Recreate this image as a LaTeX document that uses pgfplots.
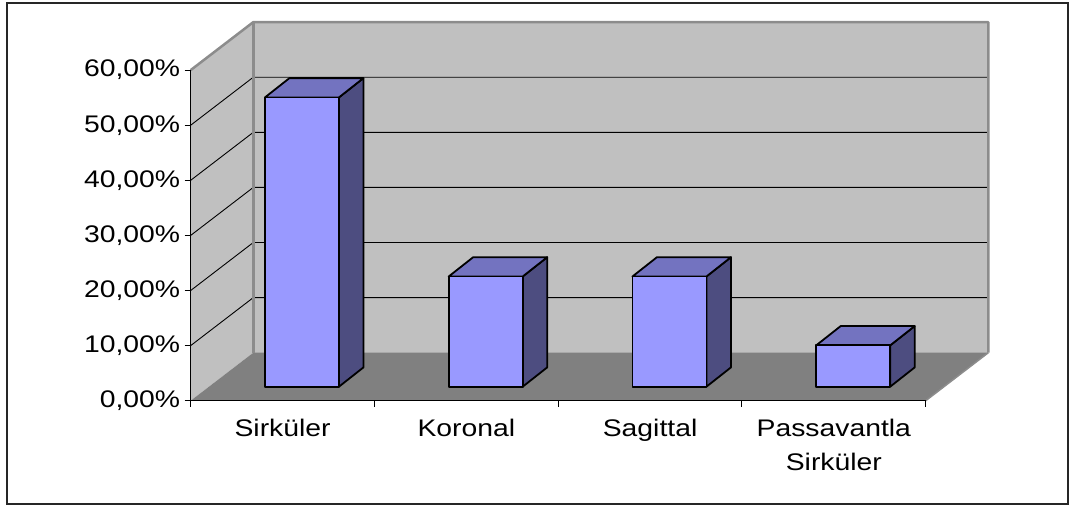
\documentclass[border=0pt]{standalone}
\usepackage{fontspec}
\setmainfont{Liberation Sans}[FakeStretch=1.18]
\usepackage{pgfplots}
\usepackage{pgfplotstable}
\pgfplotsset{compat=1.18}
\definecolor{wall}{HTML}{C0C0C0}
\definecolor{floorc}{HTML}{808080}
\definecolor{edge}{HTML}{8C8C8C}
\definecolor{barfront}{HTML}{9999FF}
\definecolor{bartop}{HTML}{7373C0}
\definecolor{barside}{HTML}{4D4D80}
\pgfdeclareplotmark{emptymark}{}
\pgfplotstableread{
x v
0 52.5
1 20
2 20
3 7.5
}\datatab

\begin{document}
\begin{tikzpicture}
\begin{axis}[
  x=183.75pt, y=5.51pt,
  xmin=0, xmax=4, ymin=0, ymax=60,
  clip=false,
  axis line style={draw=none},
  tick pos=left,
  tick align=outside,
  major tick length=6pt,
  ytick={0,10,...,60},
  yticklabel={\pgfmathprintnumber[fixed,fixed zerofill,precision=2,use comma]{\tick}\%},
  /pgf/number format/assume math mode=true,
  ytick style={black, line width=1pt},
  xtick={0.5,1.5,2.5,3.5},
  xticklabels={Sirküler,Koronal,Sagittal,Passavantla\\Sirküler},
  xtick style={draw=none},
  ticklabel style={font=\fontsize{24}{34}\selectfont},
  yticklabel style={xshift=-1pt},
  xticklabel style={align=center, yshift=-9pt},
]
% walls and floor
\fill[wall] (axis cs:0.3407,8.71) rectangle (axis cs:4.3407,68.71);
\fill[wall] (axis cs:0,0) -- (axis cs:0.3407,8.71) -- (axis cs:0.3407,68.71) -- (axis cs:0,60) -- cycle;
\fill[floorc] (axis cs:0,0) -- (axis cs:4,0) -- (axis cs:4.3407,8.71) -- (axis cs:0.3407,8.71) -- cycle;
% gridlines
\pgfplotsinvokeforeach{10,20,30,40,50}{
  \draw[black, line width=0.9pt] (axis cs:0,#1) -- (axis cs:0.3407,#1+8.71) -- (axis cs:4.3407,#1+8.71);
}
% wall edges
\draw[edge, line width=2.5pt, line join=round] (axis cs:0,60) -- (axis cs:0.3407,68.71) -- (axis cs:4.3407,68.71) -- (axis cs:4.3407,8.71);
\draw[edge, line width=2.5pt] (axis cs:0.3407,8.71) -- (axis cs:0.3407,68.71);
\draw[edge, line width=1.5pt] (axis cs:4.3407,8.71) -- (axis cs:4,0);
% front axis lines
\draw[black, line width=1.5pt] (axis cs:0,60) -- (axis cs:0,0) -- (axis cs:4,0);
\pgfplotsinvokeforeach{0,1,2,3,4}{
  \draw[black, line width=1pt] (axis cs:#1,0) -- ++(0,-6pt);
}
% bars
\addplot[scatter, only marks, mark=emptymark,
  visualization depends on={\thisrow{v}\as\val},
  scatter/@pre marker code/.code={%
    \filldraw[fill=barside, draw=black, line width=1.8pt, line join=round]
      (74pt,0pt) -- ++(24.5pt,19.3pt) -- ++(0pt,-\val*5.51pt) -- ++(-24.5pt,-19.3pt) -- cycle;
    \filldraw[fill=bartop, draw=black, line width=1.8pt, line join=round]
      (0pt,0pt) -- (74pt,0pt) -- ++(24.5pt,19.3pt) -- ++(-74pt,0pt) -- cycle;
    \filldraw[fill=barfront, draw=black, line width=1.8pt, line join=round]
      (0pt,0pt) rectangle (74pt,-\val*5.51pt);
  },
  scatter/@post marker code/.code={},
] table[x expr=\thisrow{x}+0.404, y expr=\thisrow{v}+2.54] {\datatab};
\coordinate (O) at (axis cs:0,0);
\end{axis}
\draw[black!85, line width=1.5pt] ([shift={(-183.7pt,-103.3pt)}]O) rectangle ([shift={(877.3pt,397.7pt)}]O);
\path ([shift={(-190.7pt,-105.3pt)}]O) rectangle ([shift={(880.3pt,400.7pt)}]O);
\end{tikzpicture}
\end{document}
